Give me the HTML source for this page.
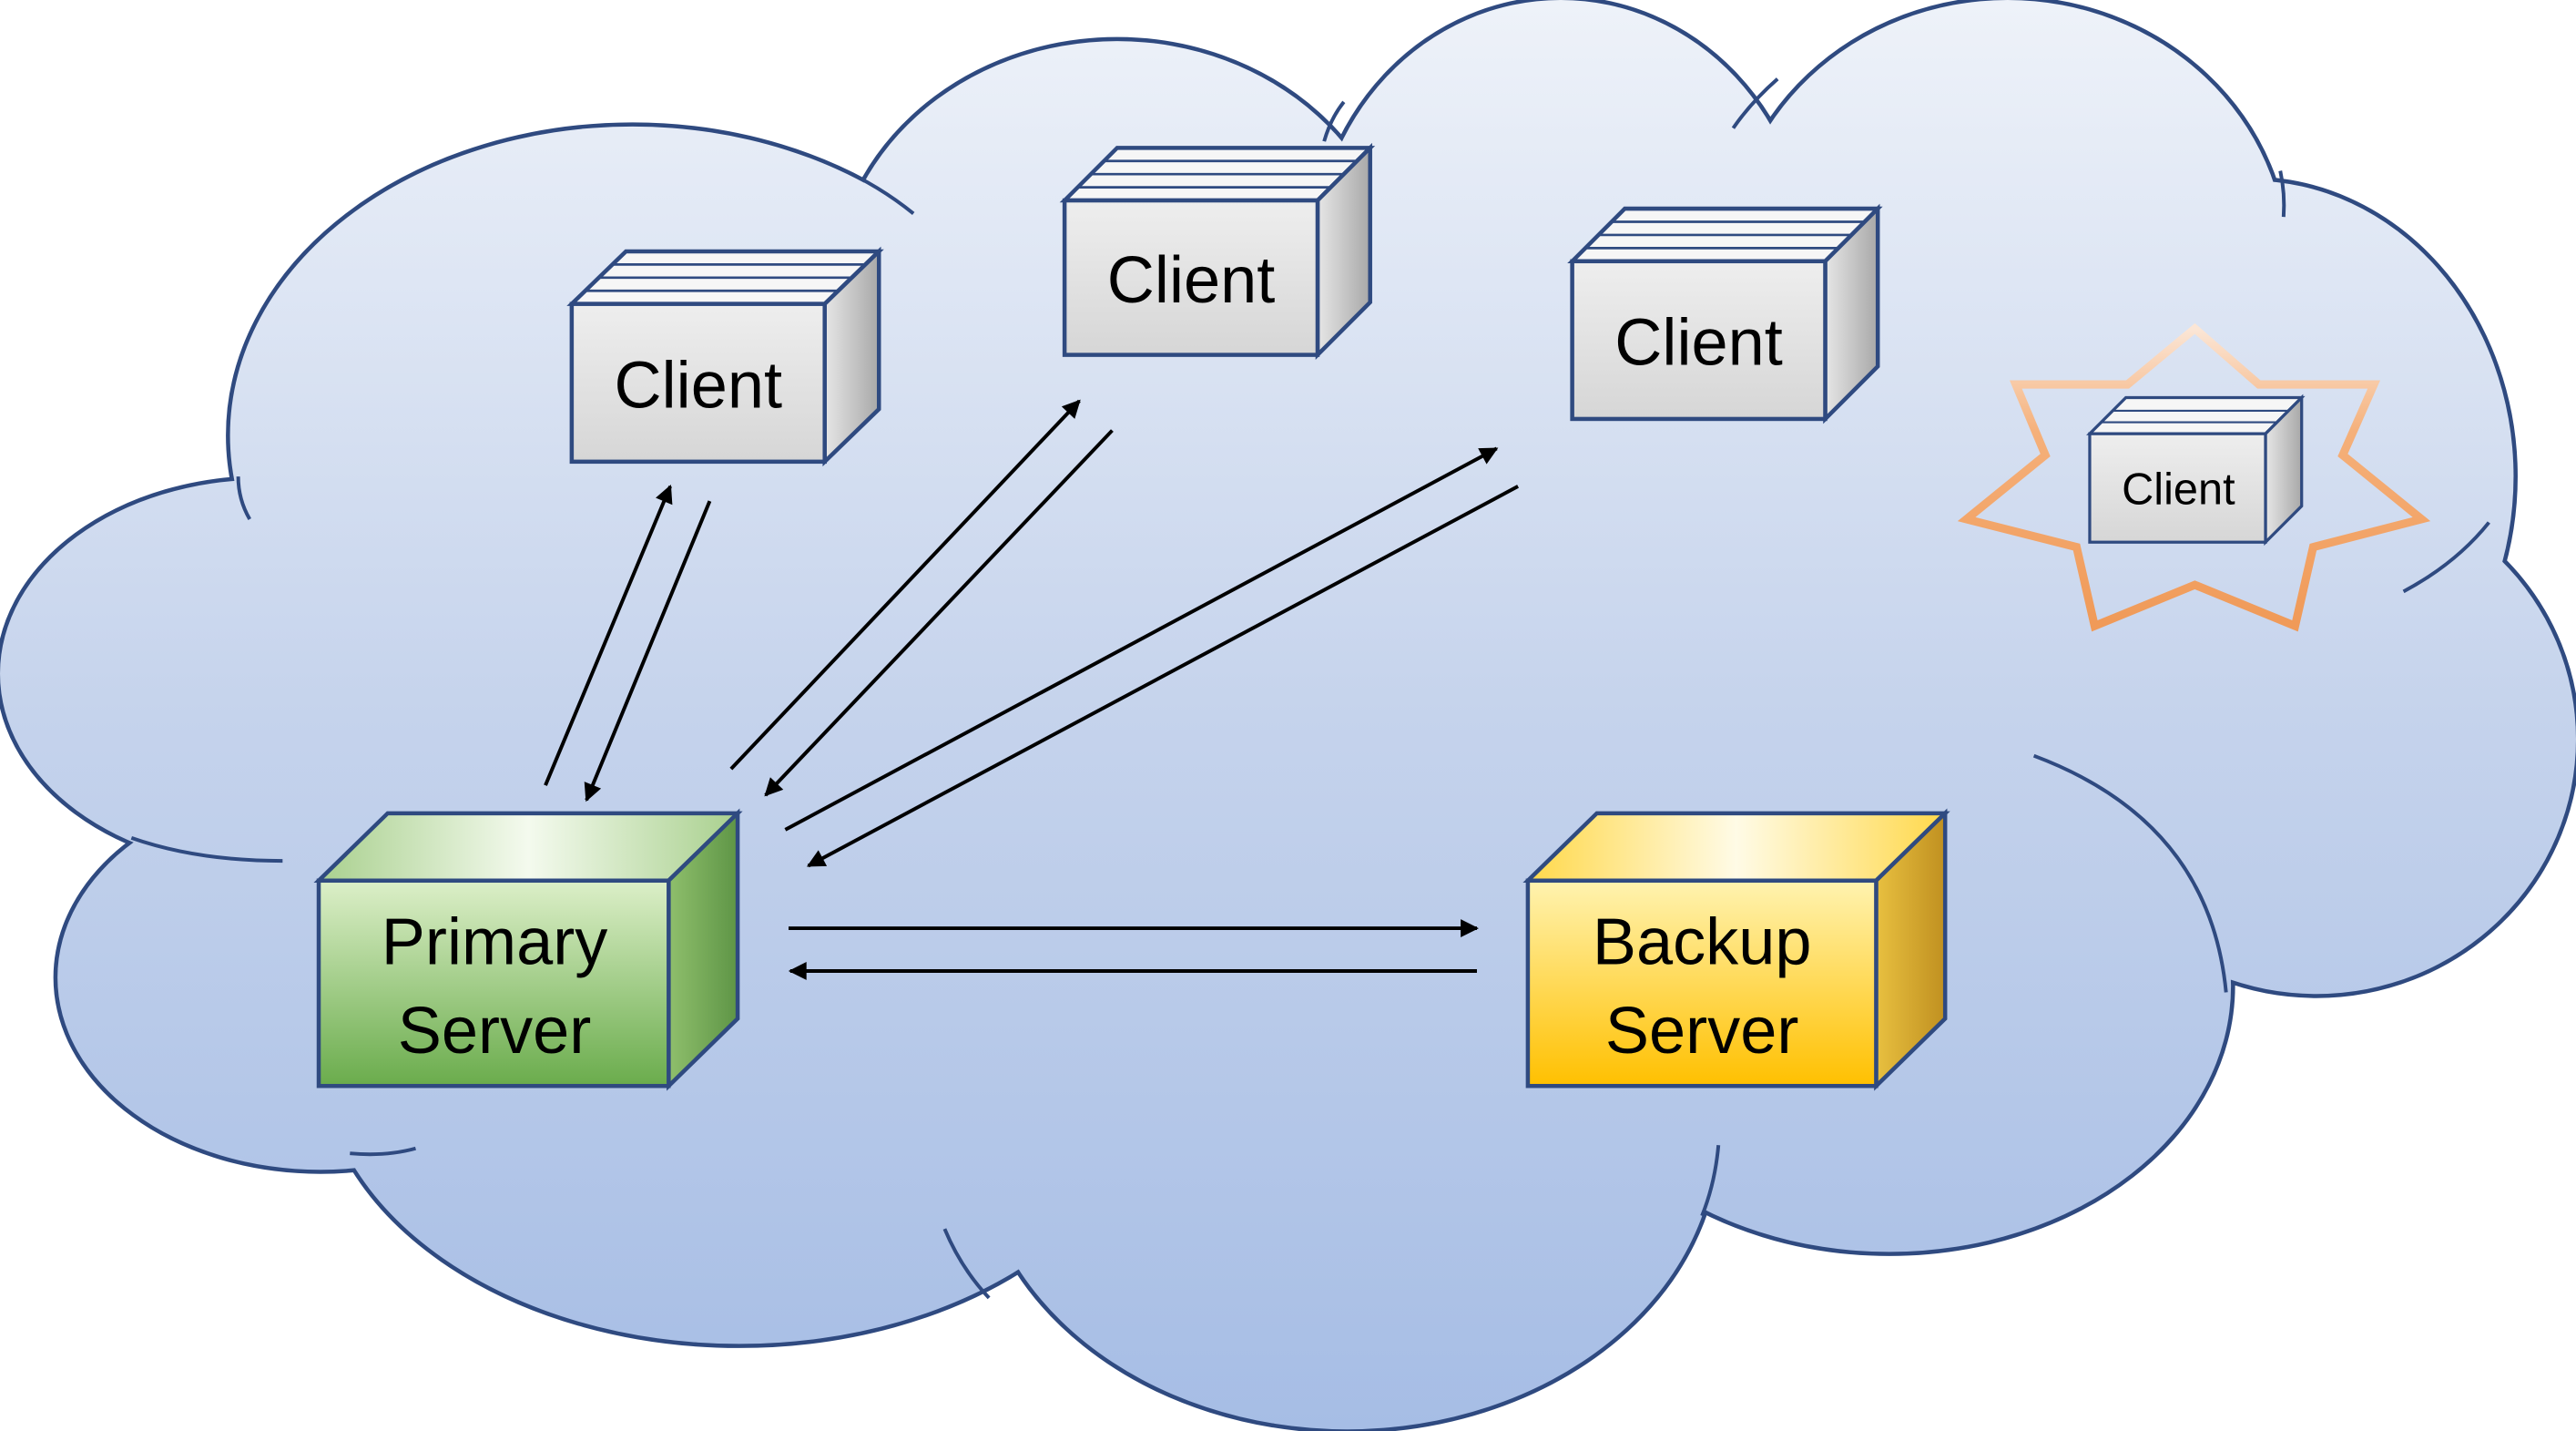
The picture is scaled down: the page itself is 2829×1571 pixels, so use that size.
<!DOCTYPE html>
<html><head><meta charset="utf-8"><style>html,body{margin:0;padding:0;background:#fff}svg{display:block}</style></head>
<body>
<svg width="2829" height="1571" viewBox="0 0 1568 871" preserveAspectRatio="none" xmlns="http://www.w3.org/2000/svg" font-family="Liberation Sans, sans-serif">
<defs>
<linearGradient id="cg" x1="0" y1="0" x2="0" y2="871" gradientUnits="userSpaceOnUse">
<stop offset="0" stop-color="#eef2f9"/><stop offset="0.5" stop-color="#c5d3ec"/><stop offset="1" stop-color="#a6bde5"/></linearGradient>
<linearGradient id="gf" x1="0" y1="0" x2="0" y2="1"><stop offset="0" stop-color="#dcefc8"/><stop offset="1" stop-color="#6aac4c"/></linearGradient>
<linearGradient id="gt" x1="0" y1="0" x2="1" y2="0"><stop offset="0" stop-color="#a9d08e"/><stop offset="0.5" stop-color="#f4faee"/><stop offset="1" stop-color="#a9d08e"/></linearGradient>
<linearGradient id="gs" x1="0" y1="0" x2="1" y2="0"><stop offset="0" stop-color="#8fbf6c"/><stop offset="1" stop-color="#5e9546"/></linearGradient>
<linearGradient id="yf" x1="0" y1="0" x2="0" y2="1"><stop offset="0" stop-color="#fff3b0"/><stop offset="1" stop-color="#ffc000"/></linearGradient>
<linearGradient id="yt" x1="0" y1="0" x2="1" y2="0"><stop offset="0" stop-color="#ffd84a"/><stop offset="0.5" stop-color="#fffbe6"/><stop offset="1" stop-color="#ffd84a"/></linearGradient>
<linearGradient id="ys" x1="0" y1="0" x2="1" y2="0"><stop offset="0" stop-color="#e8c040"/><stop offset="1" stop-color="#c09020"/></linearGradient>
<linearGradient id="wf" x1="0" y1="0" x2="0" y2="1"><stop offset="0" stop-color="#eeeeee"/><stop offset="1" stop-color="#d6d6d6"/></linearGradient>
<linearGradient id="ws" x1="0" y1="0" x2="1" y2="0"><stop offset="0" stop-color="#e6e6e6"/><stop offset="1" stop-color="#a8a8a8"/></linearGradient>
<linearGradient id="sg" x1="0" y1="200" x2="0" y2="380" gradientUnits="userSpaceOnUse"><stop offset="0" stop-color="#fbe6d6"/><stop offset="0.35" stop-color="#f5b07a"/><stop offset="1" stop-color="#f09a58"/></linearGradient>
<marker id="ah" viewBox="0 0 10 10" refX="9" refY="5" markerWidth="13" markerHeight="11" orient="auto" markerUnits="userSpaceOnUse"><path d="M0,0 L10,5 L0,10 z" fill="#000"/></marker>
<g id="cl">
<ellipse cx="385" cy="265" rx="245" ry="188"/>
<ellipse cx="680" cy="180" rx="172" ry="155"/>
<ellipse cx="950" cy="160" rx="150" ry="160"/>
<ellipse cx="1222" cy="160" rx="170" ry="160"/>
<ellipse cx="1370" cy="290" rx="160" ry="180"/>
<ellipse cx="1410" cy="450" rx="158" ry="155"/>
<ellipse cx="1150" cy="600" rx="208" ry="162"/>
<ellipse cx="820" cy="690" rx="225" ry="180"/>
<ellipse cx="450" cy="640" rx="255" ry="178"/>
<ellipse cx="195" cy="595" rx="160" ry="117"/>
<ellipse cx="160" cy="410" rx="160" ry="118"/>
<ellipse cx="780" cy="430" rx="560" ry="300"/>
</g>
</defs>
<rect width="1568" height="871" fill="#fff"/>
<use href="#cl" fill="#2f4a80" stroke="#2f4a80" stroke-width="5"/>
<use href="#cl" fill="url(#cg)"/>

<!-- inner arcs -->
<g fill="none" stroke="#2f4a80" stroke-width="2.2">
<path d="M510,102 Q535,113 556,130"/>
<path d="M806,86 Q810,72 818,62"/>
<path d="M1055,78 Q1066,62 1082,48"/>
<path d="M1390,132 Q1391,118 1388,104"/>
<path d="M1463,360 Q1495,343 1515,318"/>
<path d="M1238,460 Q1345,500 1355,604"/>
<path d="M1046,697 Q1044,720 1036,740"/>
<path d="M575,748 Q585,772 602,790"/>
<path d="M213,702 Q235,704 253,699"/>
<path d="M80,510 Q120,524 172,524"/>
<path d="M145,290 Q145,304 152,316"/>
</g>

<!-- star -->
<polygon points="1336,200 1375,234 1445,234 1426,277 1474,316 1408,333 1397,381 1336,356 1275,381 1264,333 1197,316 1245,277 1227,234 1295,234" fill="none" stroke="url(#sg)" stroke-width="5" stroke-linejoin="miter"/>

<!-- arrows -->
<g stroke="#000" stroke-width="2.2" marker-end="url(#ah)">
<line x1="332" y1="478" x2="408" y2="296"/>
<line x1="432" y1="305" x2="357" y2="487"/>
<line x1="445" y1="468" x2="657" y2="244"/>
<line x1="677" y1="262" x2="466" y2="484"/>
<line x1="478" y1="505" x2="911" y2="273"/>
<line x1="924" y1="296" x2="492" y2="527"/>
<line x1="480" y1="565" x2="899" y2="565"/>
<line x1="899" y1="591" x2="481" y2="591"/>
</g>

<!-- client boxes -->
<g stroke="#2f4a80" stroke-width="2.5" stroke-linejoin="miter">
<polygon points="348,185 381,153 535,153 502,185" fill="#f6f6f6"/>
<polygon points="502,185 535,153 535,249 502,281" fill="url(#ws)"/>
<rect x="348" y="185" width="154" height="96" fill="url(#wf)"/>
<g stroke-width="1.5"><line x1="356" y1="177" x2="510" y2="177"/><line x1="364" y1="169" x2="518" y2="169"/><line x1="372" y1="161" x2="527" y2="161"/></g>
<polygon points="648,122 680,90 834,90 802,122" fill="#f6f6f6"/>
<polygon points="802,122 834,90 834,184 802,216" fill="url(#ws)"/>
<rect x="648" y="122" width="154" height="94" fill="url(#wf)"/>
<g stroke-width="1.5"><line x1="656" y1="114" x2="810" y2="114"/><line x1="664" y1="106" x2="818" y2="106"/><line x1="672" y1="98" x2="826" y2="98"/></g>
<polygon points="957,159 989,127 1143,127 1111,159" fill="#f6f6f6"/>
<polygon points="1111,159 1143,127 1143,223 1111,255" fill="url(#ws)"/>
<rect x="957" y="159" width="154" height="96" fill="url(#wf)"/>
<g stroke-width="1.5"><line x1="965" y1="151" x2="1119" y2="151"/><line x1="973" y1="143" x2="1127" y2="143"/><line x1="981" y1="135" x2="1135" y2="135"/></g>
<polygon points="1272,264 1294,242 1401,242 1379,264" fill="#f6f6f6" stroke-width="1.8"/>
<polygon points="1379,264 1401,242 1401,308 1379,330" fill="url(#ws)" stroke-width="1.8"/>
<rect x="1272" y="264" width="107" height="66" fill="url(#wf)" stroke-width="1.8"/>
<g stroke-width="1.2"><line x1="1279" y1="257" x2="1386" y2="257"/><line x1="1286" y1="250" x2="1393" y2="250"/></g>
<polygon points="194,536 236,495 449,495 407,536" fill="url(#gt)"/>
<polygon points="407,536 449,495 449,620 407,661" fill="url(#gs)"/>
<rect x="194" y="536" width="213" height="125" fill="url(#gf)"/>
<polygon points="930,536 972,495 1184,495 1142,536" fill="url(#yt)"/>
<polygon points="1142,536 1184,495 1184,620 1142,661" fill="url(#ys)"/>
<rect x="930" y="536" width="212" height="125" fill="url(#yf)"/>
</g>

<g fill="#000" text-anchor="middle" font-size="40">
<text x="425" y="248">Client</text>
<text x="725" y="184">Client</text>
<text x="1034" y="222">Client</text>
<text x="1326" y="307" font-size="27">Client</text>
<text x="301" y="587">Primary</text>
<text x="301" y="641">Server</text>
<text x="1036" y="587">Backup</text>
<text x="1036" y="641">Server</text>
</g>
</svg>
</body></html>
